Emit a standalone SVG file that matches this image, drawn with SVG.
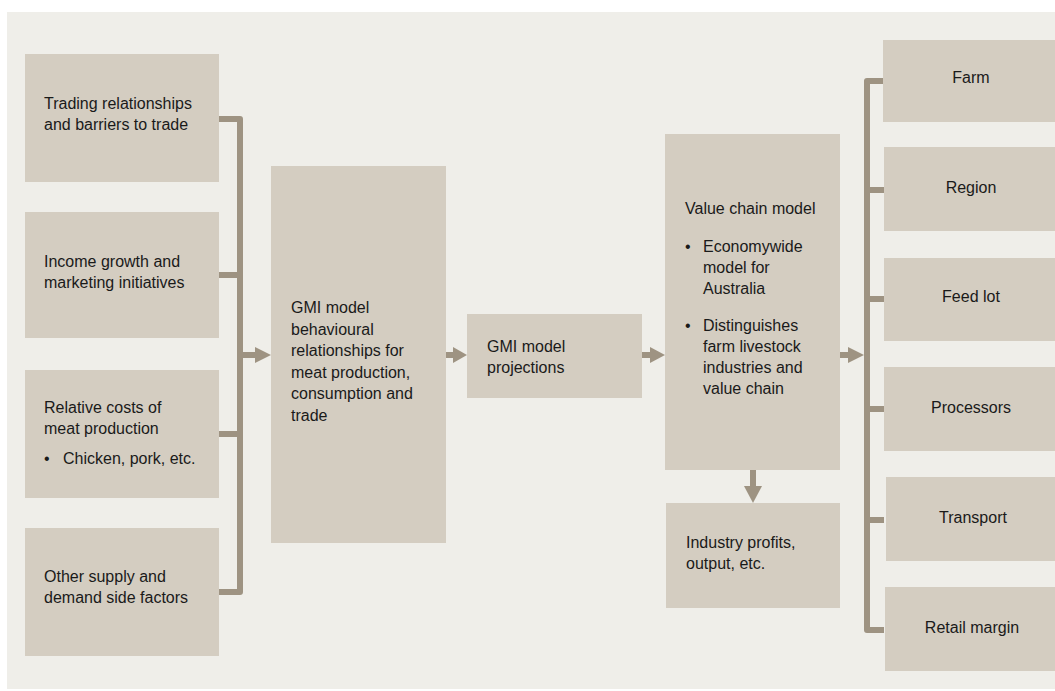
<svg xmlns="http://www.w3.org/2000/svg" width="1055" height="691" viewBox="0 0 1055 691">
<style>
.box{fill:#d4cdc1}
.t{font-family:"Liberation Sans",Arial,sans-serif;font-size:16px;fill:#1a1a1a}
.c{text-anchor:middle}
.ln{fill:none;stroke:#9e9382;stroke-width:6;stroke-linejoin:round}
.ah{fill:#9e9382}
</style>
<rect x="7" y="12" width="1048" height="677" fill="#efeee9"/>
<g id="connectors">
<path class="ln" d="M219,119 H240 V592 H219"/>
<path class="ln" d="M219,275 H240 M219,434 H240"/>
<path class="ln" d="M240,355 H257"/>
<polygon class="ah" points="255,347 271,355 255,363"/>
<path class="ln" d="M446,355 H455"/>
<polygon class="ah" points="453,347 467,355 453,363"/>
<path class="ln" d="M642,355 H651"/>
<polygon class="ah" points="650,347 665,355 650,363"/>
<path class="ln" d="M840,355 H850"/>
<polygon class="ah" points="848,347 864,355 848,363"/>
<path class="ln" d="M753,470 V488"/>
<polygon class="ah" points="744,486 762,486 753,503"/>
<path class="ln" d="M884,81 H867 V630 H884"/>
<path class="ln" d="M867,190 H884 M867,299 H884 M867,409 H884 M867,520 H884"/>
</g>
<g id="n1"><rect class="box" x="25" y="54" width="194" height="128"/>
<text class="t" x="44" y="109">Trading relationships</text>
<text class="t" x="44" y="129.5">and barriers to trade</text></g>
<g id="n2"><rect class="box" x="25" y="212" width="194" height="126"/>
<text class="t" x="44" y="267">Income growth and</text>
<text class="t" x="44" y="287.5">marketing initiatives</text></g>
<g id="n3"><rect class="box" x="25" y="370" width="194" height="128"/>
<text class="t" x="44" y="413">Relative costs of</text>
<text class="t" x="44" y="434">meat production</text>
<text class="t" x="44" y="464">•</text>
<text class="t" x="63" y="464">Chicken, pork, etc.</text></g>
<g id="n4"><rect class="box" x="25" y="528" width="194" height="128"/>
<text class="t" x="44" y="582">Other supply and</text>
<text class="t" x="44" y="603">demand side factors</text></g>
<g id="gmi"><rect class="box" x="271" y="166" width="175" height="377"/>
<text class="t" x="291" y="313">GMI model</text>
<text class="t" x="291" y="334.5">behavioural</text>
<text class="t" x="291" y="356">relationships for</text>
<text class="t" x="291" y="377.5">meat production,</text>
<text class="t" x="291" y="399">consumption and</text>
<text class="t" x="291" y="420.5">trade</text></g>
<g id="proj"><rect class="box" x="467" y="314" width="175" height="84"/>
<text class="t" x="487" y="352">GMI model</text>
<text class="t" x="487" y="373">projections</text></g>
<g id="vcm"><rect class="box" x="665" y="134" width="175" height="336"/>
<text class="t" x="685" y="214">Value chain model</text>
<text class="t" x="685" y="252">•</text>
<text class="t" x="703" y="252">Economywide</text>
<text class="t" x="703" y="273">model for</text>
<text class="t" x="703" y="294">Australia</text>
<text class="t" x="685" y="331">•</text>
<text class="t" x="703" y="331">Distinguishes</text>
<text class="t" x="703" y="352">farm livestock</text>
<text class="t" x="703" y="373">industries and</text>
<text class="t" x="703" y="394">value chain</text></g>
<g id="ind"><rect class="box" x="666" y="503" width="174" height="105"/>
<text class="t" x="686" y="548">Industry profits,</text>
<text class="t" x="686" y="569">output, etc.</text></g>
<g id="farm"><rect class="box" x="883" y="40" width="176" height="82"/>
<text class="t c" x="971" y="83">Farm</text></g>
<g id="region"><rect class="box" x="884" y="147" width="176" height="84"/>
<text class="t c" x="971" y="193">Region</text></g>
<g id="feedlot"><rect class="box" x="884" y="258" width="176" height="83"/>
<text class="t c" x="971" y="302">Feed lot</text></g>
<g id="proc"><rect class="box" x="884" y="367" width="176" height="84"/>
<text class="t c" x="971" y="413">Processors</text></g>
<g id="transport"><rect class="box" x="886" y="477" width="176" height="84"/>
<text class="t c" x="973" y="523">Transport</text></g>
<g id="retail"><rect class="box" x="885" y="587" width="176" height="84"/>
<text class="t c" x="972" y="633">Retail margin</text></g>
</svg>
